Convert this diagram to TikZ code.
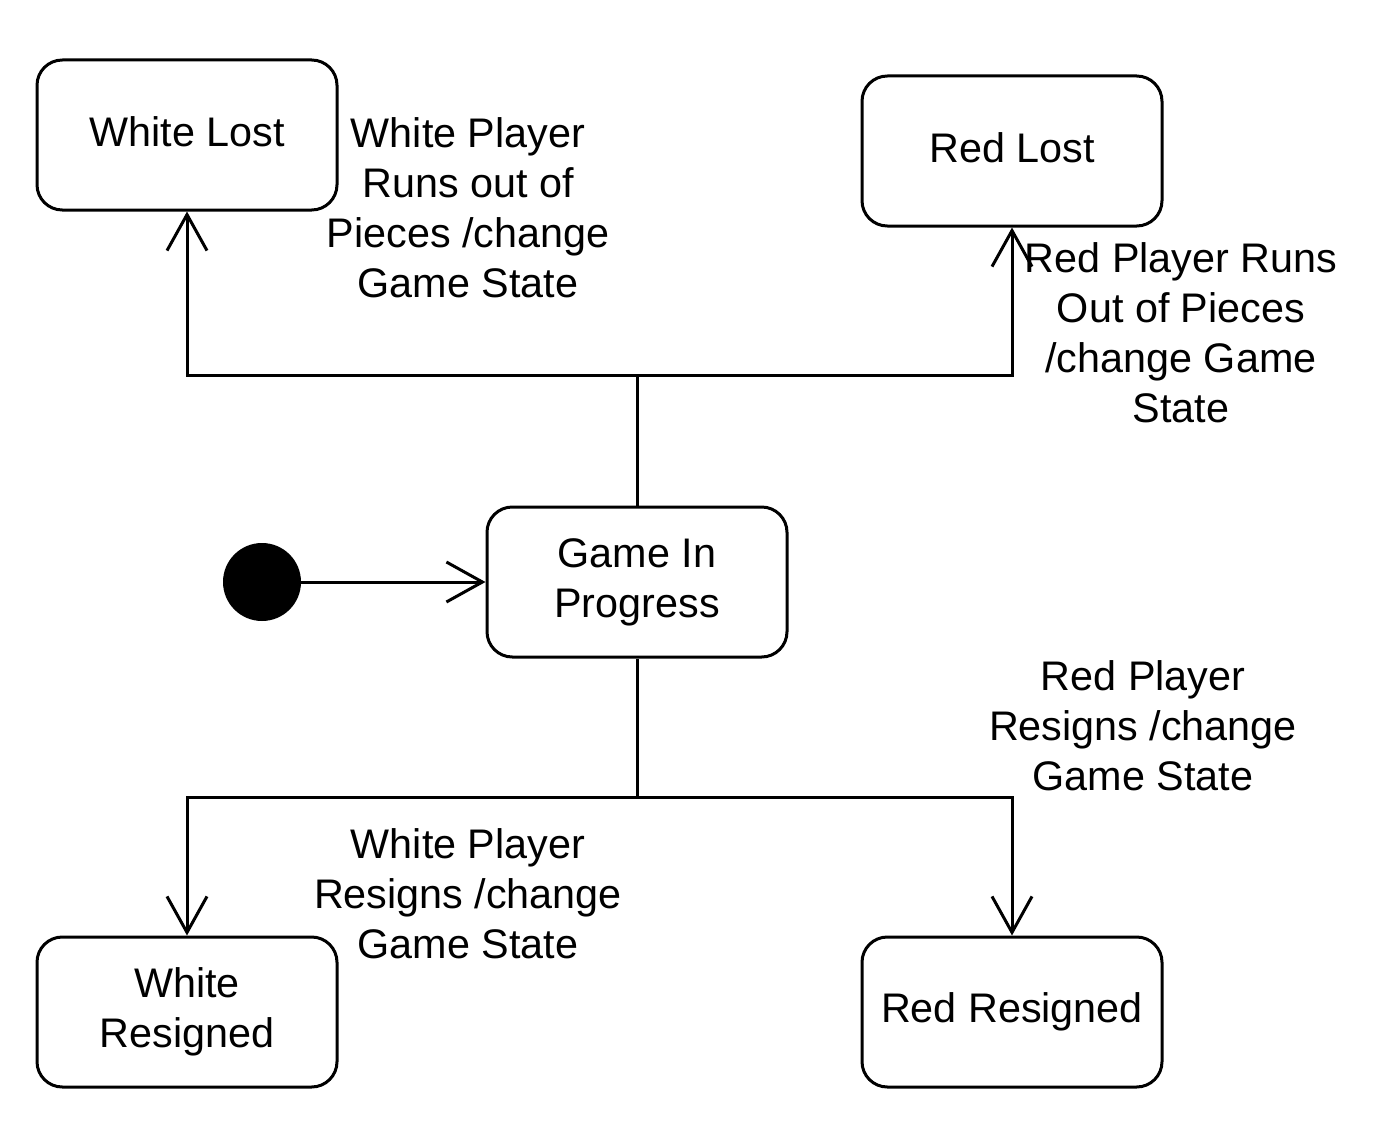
\documentclass[tikz,border=0pt]{standalone}
\usepackage{fontspec}
\setmainfont{Liberation Sans}
\usetikzlibrary{arrows.meta}
\begin{document}
\begin{tikzpicture}[x=0.75pt,y=-0.75pt,
  state/.style={draw,line width=2.25pt,rounded corners=19pt,minimum width=225pt,minimum height=112.5pt,align=center,inner sep=0pt,font=\fontsize{31}{37.5}\selectfont},
  lbl/.style={align=center,inner sep=0pt,font=\fontsize{31}{37.5}\selectfont},
  conn/.style={line width=2.25pt},
  arr/.style={line width=2.25pt,-{Straight Barb[length=27pt,width=30pt,line width=2.25pt]}}]
\useasboundingbox (0,0) rectangle (1374,1131);
\node[state] (wl) at (187,135) {\raisebox{5.5pt}{White Lost}};
\node[state] (rl) at (1012,151) {\raisebox{5.5pt}{Red Lost}};
\node[state] (gp) at (637,582) {Game In\\Progress};
\node[state] (wr) at (187,1012) {White\\Resigned};
\node[state] (rr) at (1012,1012) {Red Resigned};
\node[circle,fill=black,minimum size=58.5pt,inner sep=0pt] (init) at (262,582) {};
\coordinate (top) at (637,375);
\coordinate (bot) at (637,797);
\draw[arr] (init) -- (gp);
\draw[conn] (gp.north) -- (top);
\draw[arr] (top) -| (wl.south);
\draw[arr] (top) -| (rl.south);
\draw[conn] (gp.south) -- (bot);
\draw[arr] (bot) -| (wr.north);
\draw[arr] (bot) -| (rr.north);
\node[lbl] (l1) at (468,208) {White Player\\Runs out of\\Pieces /change\\Game State};
\node[lbl] (l2) at (1181,333) {Red Player Runs\\Out of Pieces\\/change Game\\State};
\node[lbl] (l3) at (1143,726) {Red Player\\Resigns /change\\Game State};
\node[lbl] (l4) at (468,894) {White Player\\Resigns /change\\Game State};
\end{tikzpicture}
\end{document}
